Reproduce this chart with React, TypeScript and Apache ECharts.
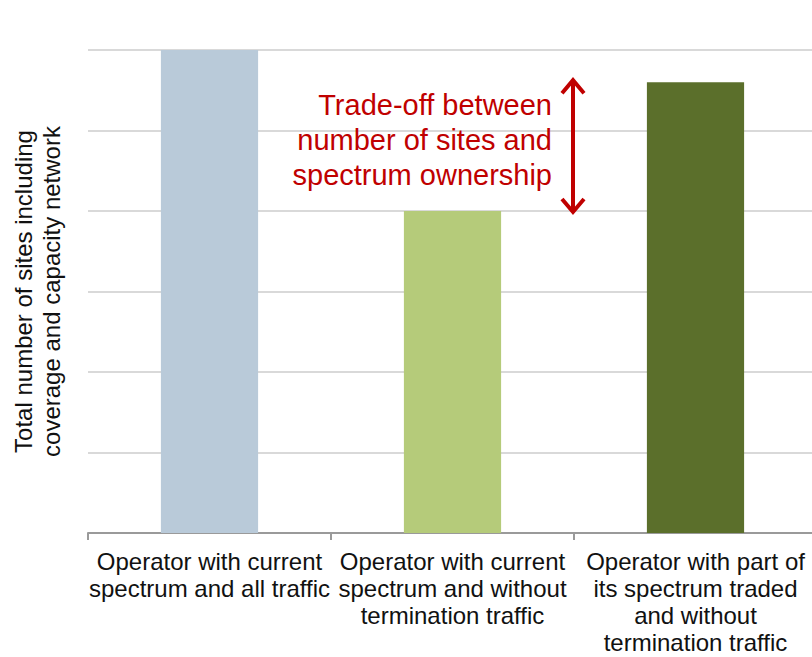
import React, { useEffect, useRef } from "react";
import * as echarts from "echarts";

const categories = [
  "Operator with current\nspectrum and all traffic",
  "Operator with current\nspectrum and without\ntermination traffic",
  "Operator with part of\nits spectrum traded\nand without\ntermination traffic",
];
const siteValues = [6, 4, 5.6];
const barColors = ["#b9cad9", "#b5cb7a", "#5b6f2b"];
const yMin = 0;
const yMax = 6;
const yInterval = 1;
const yAxisTitle = "Total number of sites including\ncoverage and capacity network";
const annotationText = "Trade-off between\nnumber of sites and\nspectrum ownership";

const FONT = "'Liberation Sans', Arial, sans-serif";
const RED = "#c00000";

export default function App() {
  const ref = useRef<HTMLDivElement>(null);

  useEffect(() => {
    if (!ref.current) return;
    const chart = echarts.init(ref.current, undefined, { renderer: "svg" });
    chart.setOption({
      animation: false,
      grid: {
        left: 88,
        top: 50,
        width: 729,
        bottom: 124,
        containLabel: false,
        outerBoundsMode: "none",
      },
      xAxis: {
        type: "category",
        data: categories,
        axisLine: { show: true, lineStyle: { color: "#9a9a9a", width: 2 } },
        axisTick: { show: true, length: 7, lineStyle: { color: "#9a9a9a", width: 2 } },
        axisLabel: {
          interval: 0,
          margin: 15,
          fontSize: 24,
          lineHeight: 27,
          color: "#111",
          fontFamily: FONT,
          align: "center",
        },
      },
      yAxis: {
        type: "value",
        min: yMin,
        max: yMax,
        interval: yInterval,
        axisLine: { show: false },
        axisTick: { show: false },
        axisLabel: { show: false },
        splitLine: { show: true, lineStyle: { color: "#d9d9d9", width: 2 } },
      },
      series: [
        {
          type: "bar",
          barWidth: "40%",
          data: siteValues.map((v, i) => ({ value: v, itemStyle: { color: barColors[i] } })),
        },
      ],
    });

    const x1 = chart.convertToPixel({ xAxisIndex: 0 }, 1) as number;
    const x2 = chart.convertToPixel({ xAxisIndex: 0 }, 2) as number;
    const ax = (x1 + x2) / 2 - 1;
    const yTop = (chart.convertToPixel({ yAxisIndex: 0 }, siteValues[2]) as number) - 3;
    const yBot = (chart.convertToPixel({ yAxisIndex: 0 }, siteValues[1]) as number) + 2;
    const yMid = (chart.convertToPixel({ yAxisIndex: 0 }, (yMin + yMax) / 2) as number);

    chart.setOption({
      graphic: [
        {
          type: "text",
          x: 37,
          y: yMid,
          rotation: Math.PI / 2,
          style: {
            text: yAxisTitle,
            fontSize: 24,
            lineHeight: 28,
            fontFamily: FONT,
            fill: "#111",
            align: "center",
            verticalAlign: "middle",
          },
        },
        {
          type: "line",
          shape: { x1: ax, y1: yTop + 2, x2: ax, y2: yBot - 2 },
          style: { stroke: RED, lineWidth: 4 },
        },
        {
          type: "polyline",
          shape: { points: [[ax - 11, yTop + 14], [ax, yTop + 1], [ax + 11, yTop + 14]] },
          style: { stroke: RED, lineWidth: 4, fill: null, lineJoin: "miter" },
        },
        {
          type: "polyline",
          shape: { points: [[ax - 11, yBot - 14], [ax, yBot - 1], [ax + 11, yBot - 14]] },
          style: { stroke: RED, lineWidth: 4, fill: null, lineJoin: "miter" },
        },
        {
          type: "text",
          x: ax - 21,
          y: (yTop + yBot) / 2 - 6,
          style: {
            text: annotationText,
            fontSize: 29,
            lineHeight: 35,
            fontFamily: FONT,
            fill: RED,
            align: "right",
            verticalAlign: "middle",
          },
        },
      ],
    });

    return () => chart.dispose();
  }, []);

  return (
    <div
      ref={ref}
      style={{ position: "absolute", left: 0, top: 0, width: 812, height: 657 }}
    />
  );
}
